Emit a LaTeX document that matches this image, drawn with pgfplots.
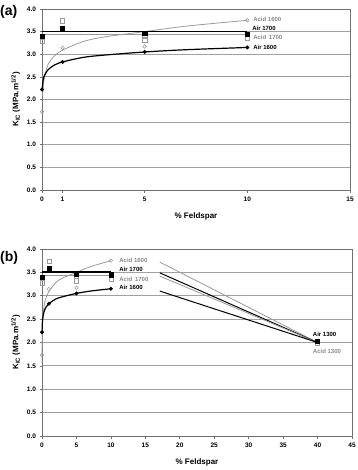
\documentclass[border=0pt]{standalone}
\usepackage{pgfplots}
\pgfplotsset{compat=1.18}
\usepackage{fontspec}
\setmainfont{Liberation Sans}
\definecolor{lg}{HTML}{9A9A9A}
\definecolor{gridc}{HTML}{A0A0A0}
\definecolor{txtg}{HTML}{8A8A8A}
\definecolor{frm}{HTML}{707070}
\pgfplotstableread{
x y
0 2.22
1 2.83
5 3.05
10 3.15
}\airA
\pgfplotstableread{
x y
0 1.73
1 3.14
5 3.17
10 3.75
}\acidA
\pgfplotstableread{
x y
0 3.40
1 3.58
5 3.47
10 3.45
}\airB
\pgfplotstableread{
x y
0 3.28
1 3.74
5 3.41
5 3.32
10 3.36
}\acidB
\pgfplotstableread{
x y
0.01 2.19
0.03 2.34
0.1 2.51
0.3 2.66
0.6 2.76
1 2.83
2 2.93
3 2.98
5 3.05
7 3.10
10 3.15
}\airAfit
\pgfplotstableread{
x y
0.03 2.08
0.1 2.45
0.3 2.78
0.6 2.96
1 3.09
2 3.28
3 3.38
5 3.50
7 3.62
10 3.75
}\acidAfit
\tikzset{lab/.style={anchor=west, font=\fontsize{6}{7}\selectfont\bfseries, inner sep=0pt}}
\begin{document}
\begin{tikzpicture}
\path[use as bounding box] (0pt,0pt) rectangle (357pt,-470pt);
\pgfplotsset{
  kstyle/.style={
    scale only axis, clip=false,
    axis x line*=bottom, axis y line*=left,
    tick align=outside, major tick length=2.5pt,
    ymin=0, ymax=4, ytick={0,0.5,...,4},
    ymajorgrids, grid style={gridc, line width=0.8pt},
    axis line style={frm, line width=0.8pt},
    tick style={frm, line width=0.6pt},
    /pgf/number format/assume math mode=true,
    ticklabel style={font=\fontsize{6.5}{7}\selectfont\bfseries},
    yticklabel style={/pgf/number format/.cd, fixed, fixed zerofill, precision=1},
    xticklabel style={yshift=-1pt, /pgf/number format/.cd, fixed, precision=0},
    xlabel={\% Feldspar},
    xlabel style={font=\fontsize{8}{9}\selectfont\bfseries, yshift=-4pt},
    ylabel={K\textsubscript{IC} (MPa.m\textsuperscript{1/2})},
    ylabel style={font=\fontsize{8}{9}\selectfont\bfseries},
  },
  airm/.style={only marks, mark=*, mark size=1.8pt, mark options={fill=black, draw=black}},
  acidm/.style={only marks, mark=o, mark size=1.8pt, mark options={draw=lg, line width=0.5pt}},
  airs/.style={only marks, mark=square*, mark size=2.1pt, mark options={fill=black, draw=black}},
  acids/.style={only marks, mark=square, mark size=2.1pt, mark options={draw=lg, line width=0.5pt}},
}
% ---------------- (a) ----------------
\begin{axis}[kstyle, at={(42pt,-190pt)}, anchor=south west, width=308pt, height=181pt,
  xmin=0, xmax=15, xtick={0,1,5,10,15}]
\draw[frm, line width=0.8pt] (rel axis cs:0,1) -- (rel axis cs:1,1) -- (rel axis cs:1,0);
\addplot[lg, line width=0.8pt, smooth, tension=0.5] table {\acidAfit};
\addplot[black, line width=1.2pt, smooth, tension=0.5] table {\airAfit};
\addplot[black, line width=1.2pt] coordinates {(0,3.51) (10,3.51)};
\addplot[lg, line width=1.0pt] coordinates {(0,3.43) (10,3.43)};
\addplot[acids] table {\acidB};
\addplot[airs] table {\airB};
\addplot[acidm] table {\acidA};
\addplot[airm] table {\airA};
\node[lab, txtg] at (axis cs:10.28,3.78) {Acid 1600};
\node[lab, black] at (axis cs:10.23,3.58) {Air 1700};
\node[lab, txtg] at (axis cs:10.28,3.38) {Acid \,1700};
\node[lab, black] at (axis cs:10.28,3.16) {Air 1600};
\end{axis}
\node[anchor=west, font=\fontsize{14}{15}\selectfont\bfseries, inner sep=0pt] at (0pt,-12pt) {(a)};
% ---------------- (b) ----------------
\begin{axis}[kstyle, at={(42pt,-436pt)}, anchor=south west, width=310pt, height=187pt,
  xmin=0, xmax=45, xtick={0,5,...,45}]
\draw[frm, line width=0.8pt] (rel axis cs:0,1) -- (rel axis cs:1,1) -- (rel axis cs:1,0);
\addplot[lg, line width=0.8pt, smooth, tension=0.5] coordinates {(0.004,1.55) (0.01,1.80) (0.03,2.08) (0.1,2.45) (0.3,2.78) (0.6,2.96) (1,3.09) (2,3.28) (3,3.38) (5,3.50) (7,3.62) (10,3.75)};
\addplot[black, line width=1.2pt, smooth, tension=0.5] table {\airAfit};
\addplot[black, line width=1.2pt] coordinates {(0,3.51) (10,3.51)};
\addplot[lg, line width=1.0pt] coordinates {(0,3.44) (10,3.44)};
\addplot[lg, line width=0.8pt] coordinates {(17.1,3.72) (40,2.0)};
\addplot[black, line width=1.0pt] coordinates {(17.1,3.49) (40,2.0)};
\addplot[lg, line width=0.8pt] coordinates {(17.1,3.42) (40,2.0)};
\addplot[black, line width=1.0pt] coordinates {(17.1,3.10) (40,2.0)};
\addplot[acids] table {\acidB};
\addplot[airs] table {\airB};
\addplot[acidm] table {\acidA};
\addplot[airm] table {\airA};
\addplot[acids] coordinates {(40,1.99)};
\addplot[airs] coordinates {(40,2.03)};
\node[lab, txtg] at (axis cs:11.2,3.76) {Acid 1600};
\node[lab, black] at (axis cs:11.2,3.57) {Air 1700};
\node[lab, txtg] at (axis cs:11.2,3.36) {Acid \,1700};
\node[lab, black] at (axis cs:11.2,3.17) {Air 1600};
\node[lab, black] at (axis cs:39.3,2.18) {Air 1300};
\node[lab, txtg] at (axis cs:39.3,1.82) {Acid 1300};
\end{axis}
\node[anchor=west, font=\fontsize{14}{15}\selectfont\bfseries, inner sep=0pt] at (0pt,-258pt) {(b)};
\end{tikzpicture}
\end{document}
